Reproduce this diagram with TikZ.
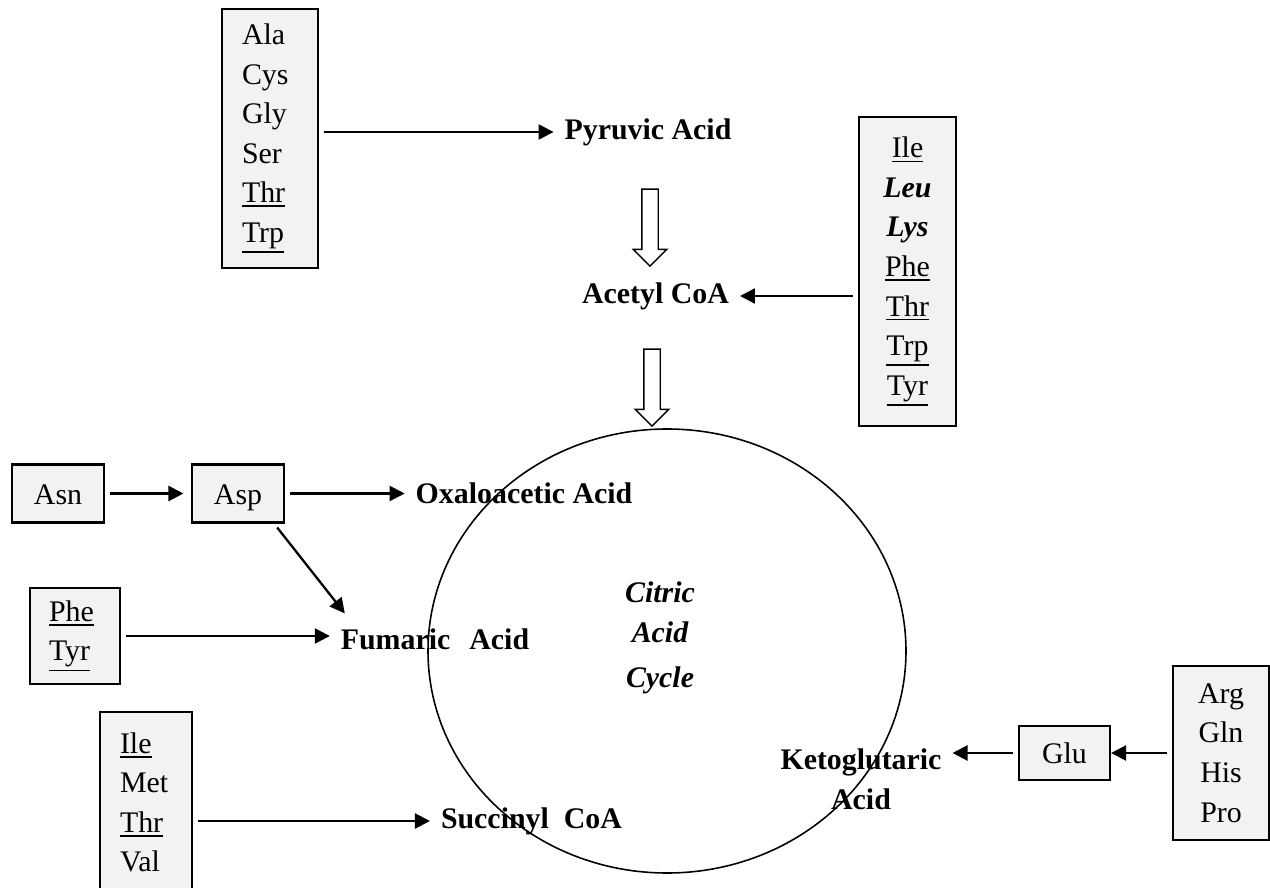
\documentclass[tikz,border=0pt]{standalone}
\usepackage{fontspec}
\setmainfont{Liberation Serif}
\usetikzlibrary{arrows.meta,shapes.geometric,shapes.arrows}
\definecolor{boxgray}{HTML}{F2F2F2}
\newcommand\labelsize{\fontsize{17}{22.5}\selectfont}
\newcommand\uln[1]{\leavevmode\vtop{\hbox{#1}\kern1.4pt\hrule height 1pt}}

\begin{document}
\begin{tikzpicture}[line width=1.2pt,>={Triangle[length=0.3cm,width=0.3cm]},
  aa/.style={draw,fill=boxgray,inner sep=0pt,font=\labelsize,align=center},
  aa1/.style={aa,text height=0.42cm,text depth=0cm},
  aalist/.style={aa,align=left,inner xsep=0.4cm,text width=#1},
  lbl/.style={font=\labelsize\bfseries,inner sep=0.2cm},
  flow/.style={->,line width=1.3pt,shorten <=0.1cm},
  hollow/.style={single arrow,draw,fill=white,line width=0.8pt,rotate=-90,
    minimum height=1.54cm,minimum width=0.64cm,single arrow head extend=0.17cm,
    inner xsep=0pt,inner ysep=0.15cm}]
\useasboundingbox (0,0) rectangle (25.4,-17.76);
% 柠檬酸循环
\node[draw,ellipse,line width=0.9pt,minimum width=9.56cm,minimum height=8.88cm,inner sep=0pt] (tca) at (13.34,-13.02) {};
\node[font=\labelsize\bfseries\itshape,align=center] (tcatxt) at (13.20,-12.76) {Citric\\Acid\\[3pt]Cycle};
% 中间产物
\node[lbl] (pyr) at (12.96,-2.64) {Pyruvic Acid};
\node[lbl] (acoa) at (13.11,-5.92) {Acetyl CoA};
\node[lbl] (oaa) at (10.48,-9.87) {Oxaloacetic Acid};
\node[lbl] (fum) at (8.70,-12.78) {Fumaric\hspace{0.38cm}Acid};
\node[lbl] (sca) at (10.63,-16.42) {Succinyl\hspace{0.3cm}CoA};
\node[lbl,align=center] (akg) at (17.22,-15.59) {Ketoglutaric\\Acid};
\node[hollow] (pyr2acoa) at (13.00,-4.47) {};
\node[hollow] (acoa2tca) at (13.04,-7.67) {};
% 氨基酸框
\node[aalist=1.12cm,minimum height=5.18cm] (glyco) at (5.40,-2.77) {Ala\\Cys\\Gly\\Ser\\\uln{Thr}\\\uln{Trp}};
\node[aa,minimum width=1.94cm,minimum height=6.18cm] (ketogen) at (18.15,-5.43)
  {\uln{Ile}\\\textbf{\textit{Leu}}\\\textbf{\textit{Lys}}\\\uln{Phe}\\\uln{Thr}\\\uln{Trp}\\\uln{Tyr}};
\node[aa1,minimum width=1.84cm,minimum height=1.16cm] (asn) at (1.16,-9.87) {Asn};
\node[aa1,minimum width=1.84cm,minimum height=1.16cm] (asp) at (4.76,-9.87) {Asp};
\node[aalist=1.04cm,inner xsep=0.38cm,minimum height=1.92cm] (phetyr) at (1.50,-12.72) {\uln{Phe}\\\uln{Tyr}};
\node[aalist=1.04cm,minimum height=3.62cm] (succsrc) at (2.92,-16.05) {\uln{Ile}\\Met\\\uln{Thr}\\Val};
\node[aa1,minimum width=1.82cm,minimum height=1.08cm] (glu) at (21.29,-15.06) {Glu};
\node[aa,minimum width=1.92cm,minimum height=3.48cm] (glusrc) at (24.42,-15.06) {Arg\\Gln\\His\\Pro};
% 箭头
\draw[flow] (glyco.east |- pyr.west) -- (pyr.west);
\draw[flow] (ketogen.west |- acoa.east) -- (acoa.east);
\draw[flow,shorten >=0.15cm] (asn) -- (asp);
\draw[flow] (asp) -- (oaa);
\draw[flow] ([xshift=-0.22cm]asp.south east) -- ([shift={(0.30,0.08)}]fum.north west);
\draw[flow] (phetyr.east) -- (phetyr.east -| fum.west);
\draw[flow] (succsrc.east |- sca.west) -- (sca.west);
\draw[flow] (glu.west) -- (glu.west -| akg.east);
\draw[flow] (glusrc.west) -- (glu.east);
\end{tikzpicture}
\end{document}
